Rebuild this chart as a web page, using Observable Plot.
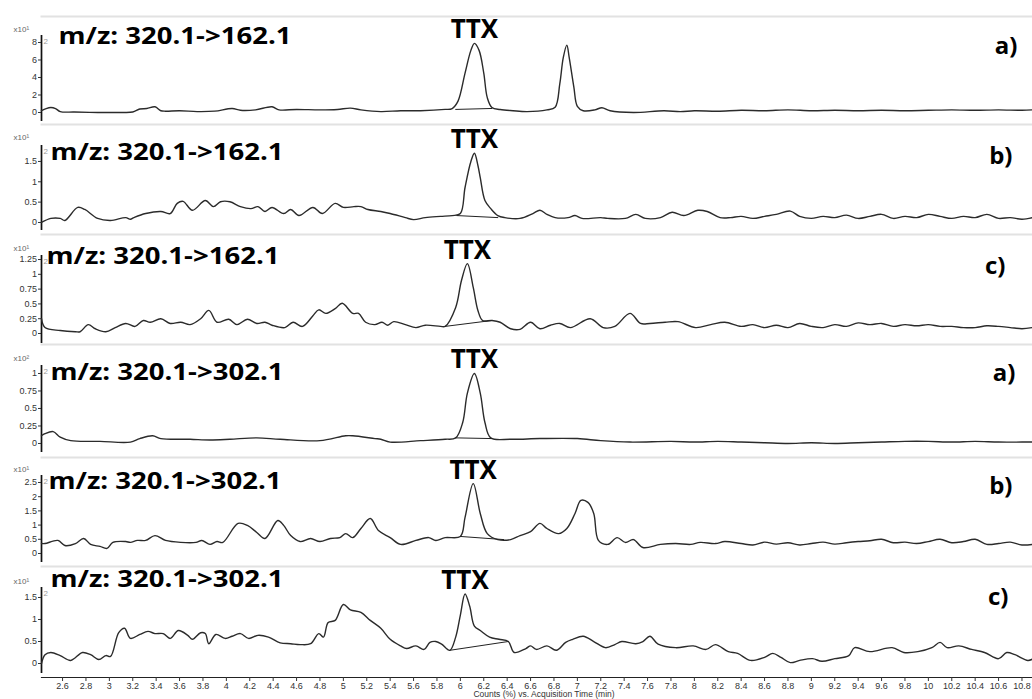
<!DOCTYPE html>
<html><head><meta charset="utf-8">
<script src="https://cdn.jsdelivr.net/npm/d3@7"></script>
<script src="https://cdn.jsdelivr.net/npm/@observablehq/plot@0.6"></script>
<style>
body{margin:0;background:#fff;}
#chart{width:1032px;height:699px;position:relative;overflow:hidden;padding-top:15px;box-sizing:border-box;background:#fff}
#chart svg{display:block;overflow:visible}
</style></head><body><div id="chart"></div>
<script>
// ---------------- data ----------------
const timeDomain = [2.42, 10.89];
const xTicks = [2.6,2.8,3,3.2,3.4,3.6,3.8,4,4.2,4.4,4.6,4.8,5,5.2,5.4,5.6,5.8,6,6.2,6.4,6.6,6.8,7,7.2,7.4,7.6,7.8,8,8.2,8.4,8.6,8.8,9,9.2,9.4,9.6,9.8,10,10.2,10.4,10.6,10.8];
const xTitle = "Counts (%) vs. Acquisition Time (min)";
const peakName = "TTX";
const transitions = ["m/z: 320.1->162.1","m/z: 320.1->162.1","m/z: 320.1->162.1","m/z: 320.1->302.1","m/z: 320.1->302.1","m/z: 320.1->302.1"];
const samples = ["a)","b)","c)","a)","b)","c)"];
const exponents = ["x10\u00b9","x10\u00b9","x10\u00b9","x10\u00b2","x10\u00b9","x10\u00b9"];
const yTicks1 = [0,2,4,6,8];
const yTicks2 = [0,0.5,1,1.5];
const yTicks3 = [0,0.25,0.5,0.75,1,1.25];
const yTicks4 = [0,0.25,0.5,0.75,1];
const yTicks5 = [0,0.5,1,1.5,2,2.5];
const yTicks6 = [0,0.5,1,1.5];

const trace1 = [[2.42,0.2],[2.46,0.45],[2.5,0.57],[2.54,0.45],[2.58,0.1],[2.7,0.05],[2.9,0],[3.1,0],[3.2,0.05],[3.26,0.4],[3.32,0.45],[3.39,0.65],[3.44,0.2],[3.48,0.15],[3.6,0.2],[3.75,0.1],[3.9,0.15],[4.05,0.45],[4.12,0.25],[4.25,0.3],[4.39,0.65],[4.45,0.3],[4.6,0.35],[4.8,0.3],[4.95,0.35],[5.06,0.5],[5.15,0.3],[5.32,0.1],[5.49,0.2],[5.66,0.2],[5.87,0.35],[5.93,0.45],[5.98,1.3],[6.04,4.5],[6.09,7.1],[6.12,7.9],[6.16,7.1],[6.2,4.5],[6.23,1.7],[6.27,0.57],[6.34,0.34],[6.45,0.2],[6.57,0.1],[6.74,0.3],[6.81,0.6],[6.85,3.3],[6.88,6.3],[6.91,7.7],[6.93,6.3],[6.97,2.9],[7,0.7],[7.05,0.2],[7.15,0.3],[7.21,0.55],[7.28,0.2],[7.48,0],[7.74,0.2],[7.88,0.1],[8,0.2],[8.2,0.15],[8.4,0.25],[8.6,0.2],[8.8,0.3],[9,0.2],[9.2,0.25],[9.4,0.2],[9.6,0.25],[9.8,0.2],[10,0.25],[10.2,0.3],[10.4,0.25],[10.6,0.3],[10.8,0.25],[10.89,0.3]];
const trace2 = [[2.42,0],[2.5,0.1],[2.58,0.1],[2.62,0.05],[2.73,0.37],[2.79,0.32],[2.9,0.1],[3.01,0.05],[3.14,0.12],[3.18,0.08],[3.21,0.12],[3.31,0.22],[3.44,0.27],[3.52,0.22],[3.58,0.47],[3.63,0.52],[3.71,0.3],[3.82,0.54],[3.89,0.39],[3.95,0.51],[4.03,0.51],[4.12,0.39],[4.21,0.34],[4.27,0.39],[4.33,0.27],[4.39,0.37],[4.49,0.22],[4.55,0.32],[4.62,0.17],[4.74,0.37],[4.82,0.22],[4.93,0.47],[5,0.37],[5.09,0.39],[5.15,0.39],[5.21,0.32],[5.32,0.27],[5.4,0.22],[5.53,0.12],[5.6,0.07],[5.7,0.12],[5.83,0.15],[5.93,0.17],[6,0.22],[6.04,0.86],[6.09,1.5],[6.12,1.7],[6.15,1.4],[6.17,1.1],[6.21,0.54],[6.26,0.34],[6.32,0.17],[6.38,0.12],[6.51,0.1],[6.62,0.22],[6.68,0.3],[6.74,0.2],[6.81,0.12],[6.92,0.12],[6.98,0.17],[7.04,0.1],[7.2,0.12],[7.26,0.1],[7.41,0.1],[7.5,0.2],[7.58,0.1],[7.71,0.12],[7.81,0.25],[7.91,0.17],[8.03,0.3],[8.11,0.27],[8.22,0.12],[8.31,0.12],[8.4,0.15],[8.5,0.1],[8.6,0.15],[8.7,0.2],[8.82,0.28],[8.9,0.15],[9,0.1],[9.1,0.15],[9.2,0.12],[9.3,0.18],[9.4,0.1],[9.5,0.15],[9.6,0.2],[9.7,0.1],[9.8,0.15],[9.9,0.12],[10,0.2],[10.1,0.15],[10.2,0.1],[10.3,0.15],[10.4,0.12],[10.5,0.2],[10.6,0.1],[10.7,0.12],[10.8,0.08],[10.89,0.12]];
const trace3 = [[2.42,0.25],[2.45,0.1],[2.58,0.05],[2.71,0.03],[2.75,0.03],[2.82,0.15],[2.88,0.08],[2.97,0.03],[3.05,0.1],[3.14,0.17],[3.22,0.12],[3.29,0.22],[3.35,0.19],[3.44,0.25],[3.52,0.17],[3.61,0.19],[3.69,0.15],[3.78,0.25],[3.85,0.39],[3.92,0.19],[4.02,0.24],[4.09,0.15],[4.18,0.24],[4.26,0.17],[4.33,0.19],[4.39,0.14],[4.5,0.1],[4.57,0.19],[4.65,0.12],[4.74,0.3],[4.79,0.4],[4.85,0.34],[4.93,0.42],[4.99,0.51],[5.08,0.34],[5.13,0.34],[5.19,0.19],[5.27,0.15],[5.33,0.19],[5.38,0.14],[5.43,0.2],[5.53,0.15],[5.62,0.1],[5.7,0.14],[5.83,0.12],[5.87,0.12],[5.96,0.44],[6.01,0.9],[6.06,1.18],[6.11,0.78],[6.15,0.39],[6.19,0.22],[6.27,0.22],[6.34,0.19],[6.43,0.08],[6.51,0.07],[6.6,0.19],[6.68,0.08],[6.77,0.14],[6.85,0.17],[6.94,0.1],[7.11,0.25],[7.22,0.1],[7.32,0.12],[7.45,0.34],[7.54,0.17],[7.62,0.17],[7.75,0.19],[7.86,0.2],[8.01,0.1],[8.14,0.15],[8.26,0.19],[8.4,0.12],[8.5,0.15],[8.6,0.1],[8.7,0.14],[8.8,0.1],[8.9,0.17],[9,0.12],[9.1,0.1],[9.2,0.15],[9.3,0.12],[9.4,0.18],[9.5,0.15],[9.6,0.17],[9.7,0.12],[9.8,0.15],[9.9,0.13],[10,0.15],[10.1,0.12],[10.2,0.12],[10.3,0.1],[10.4,0.1],[10.5,0.13],[10.6,0.12],[10.7,0.1],[10.8,0.08],[10.89,0.1]];
const trace4 = [[2.42,0.11],[2.45,0.14],[2.52,0.17],[2.58,0.09],[2.67,0.04],[2.92,0.03],[3.18,0.02],[3.26,0.07],[3.37,0.11],[3.44,0.07],[3.69,0.06],[3.86,0.05],[4.03,0.06],[4.26,0.08],[4.46,0.06],[4.8,0.04],[5.02,0.11],[5.08,0.11],[5.27,0.07],[5.32,0.06],[5.4,0.02],[5.66,0.04],[5.87,0.06],[5.96,0.08],[6.02,0.3],[6.06,0.72],[6.12,1],[6.17,0.72],[6.21,0.3],[6.26,0.08],[6.43,0.06],[6.68,0.07],[7,0.07],[7.2,0.04],[7.45,0.02],[7.8,0.03],[8,0.02],[8.2,0.03],[8.4,0.02],[8.6,0.01],[8.8,0],[9,0.01],[9.2,0],[9.4,0.01],[9.6,0.02],[9.8,0.03],[10,0.03],[10.2,0.02],[10.4,0.03],[10.6,0.02],[10.8,0.02],[10.89,0.02]];
const trace5 = [[2.42,0.35],[2.45,0.35],[2.56,0.46],[2.62,0.28],[2.71,0.35],[2.78,0.53],[2.84,0.32],[2.92,0.25],[2.98,0.18],[3.03,0.39],[3.14,0.42],[3.18,0.39],[3.24,0.46],[3.31,0.46],[3.39,0.63],[3.48,0.46],[3.61,0.39],[3.74,0.39],[3.79,0.46],[3.86,0.32],[3.92,0.42],[3.97,0.39],[4.1,1.06],[4.18,0.99],[4.26,0.74],[4.33,0.53],[4.44,1.16],[4.49,0.99],[4.55,0.63],[4.63,0.42],[4.72,0.53],[4.8,0.42],[4.89,0.53],[4.97,0.56],[5.02,0.7],[5.08,0.56],[5.15,0.88],[5.23,1.23],[5.3,0.81],[5.4,0.56],[5.49,0.32],[5.62,0.46],[5.73,0.56],[5.79,0.46],[5.87,0.56],[6,0.6],[6.04,1.27],[6.11,2.46],[6.17,1.41],[6.23,0.7],[6.32,0.49],[6.43,0.49],[6.51,0.63],[6.6,0.77],[6.68,1.06],[6.74,0.88],[6.84,0.7],[6.91,0.88],[6.98,1.41],[7.03,1.87],[7.09,1.8],[7.14,1.41],[7.18,0.46],[7.26,0.32],[7.34,0.56],[7.41,0.39],[7.48,0.49],[7.56,0.21],[7.71,0.32],[7.84,0.35],[7.97,0.32],[8.05,0.39],[8.18,0.35],[8.26,0.42],[8.4,0.35],[8.5,0.3],[8.6,0.4],[8.7,0.33],[8.8,0.38],[8.9,0.3],[9,0.35],[9.1,0.4],[9.2,0.33],[9.3,0.38],[9.4,0.42],[9.5,0.45],[9.6,0.5],[9.7,0.38],[9.8,0.4],[9.9,0.35],[10,0.42],[10.1,0.5],[10.2,0.38],[10.3,0.42],[10.4,0.5],[10.5,0.32],[10.6,0.35],[10.7,0.4],[10.8,0.3],[10.89,0.32]];
const trace6 = [[2.42,0],[2.45,0.2],[2.5,0.25],[2.58,0.18],[2.67,0.07],[2.77,0.25],[2.84,0.2],[2.91,0.09],[2.97,0.18],[3.01,0.16],[3.08,0.7],[3.13,0.8],[3.18,0.57],[3.26,0.66],[3.33,0.73],[3.39,0.68],[3.46,0.68],[3.52,0.57],[3.59,0.75],[3.67,0.64],[3.71,0.55],[3.78,0.7],[3.82,0.68],[3.85,0.45],[3.91,0.66],[3.99,0.57],[4.05,0.62],[4.12,0.68],[4.19,0.57],[4.27,0.64],[4.36,0.6],[4.46,0.47],[4.55,0.45],[4.63,0.43],[4.72,0.45],[4.79,0.68],[4.83,0.6],[4.87,0.93],[4.93,0.98],[5,1.34],[5.06,1.22],[5.15,1.16],[5.23,0.98],[5.32,0.8],[5.4,0.55],[5.49,0.4],[5.54,0.34],[5.62,0.4],[5.69,0.32],[5.74,0.48],[5.79,0.5],[5.84,0.44],[5.91,0.3],[5.96,0.6],[6,1.1],[6.04,1.58],[6.08,1.3],[6.12,0.85],[6.17,0.75],[6.25,0.6],[6.33,0.55],[6.41,0.5],[6.46,0.25],[6.56,0.34],[6.6,0.4],[6.65,0.32],[6.74,0.4],[6.82,0.3],[6.9,0.48],[6.96,0.55],[7.05,0.62],[7.14,0.5],[7.24,0.36],[7.32,0.43],[7.38,0.5],[7.5,0.45],[7.56,0.5],[7.62,0.62],[7.69,0.44],[7.84,0.36],[7.99,0.4],[8.1,0.32],[8.18,0.43],[8.29,0.27],[8.37,0.23],[8.48,0.07],[8.6,0.14],[8.67,0.23],[8.74,0.14],[8.82,0.02],[8.9,0.07],[9.01,0.11],[9.09,0.05],[9.2,0.11],[9.32,0.18],[9.37,0.36],[9.5,0.27],[9.69,0.36],[9.79,0.25],[9.91,0.27],[10.03,0.36],[10.1,0.48],[10.16,0.36],[10.26,0.4],[10.37,0.32],[10.48,0.25],[10.6,0.11],[10.67,0.25],[10.74,0.2],[10.85,0.07],[10.89,0.1]];

// integration baselines under the TTX peak: [start, end]
const base1 = [[5.96,0.35],[6.27,0.46]];
const base2 = [[5.97,0.17],[6.32,0.12]];
const base3 = [[5.87,0.12],[6.27,0.22]];
const base4 = [[5.96,0.08],[6.27,0.07]];
const base5 = [[6.0,0.6],[6.37,0.49]];
const base6 = [[5.91,0.3],[6.41,0.5]];

// ---------------- layout (pixels) ----------------
const layout = [
  {h:108, yDomain:[-1.03,8.8],   yRange:[106,20], tx:17, ty:27, lx:-15, ly:37, ey:15},
  {h:110, yDomain:[-0.197,1.892],yRange:[107,22], tx:9,  ty:35, lx:-20, ly:39, ey:15},
  {h:110, yDomain:[-0.169,1.318],yRange:[110,22], tx:5,  ty:29, lx:-27, ly:39, ey:16},
  {h:113, yDomain:[-0.129,1.114],yRange:[109,22], tx:9,  ty:35, lx:-17, ly:36, ey:16},
  {h:109, yDomain:[-0.317,2.746],yRange:[106,19], tx:7,  ty:31, lx:-20, ly:36, ey:14},
  {h:134, yDomain:[-0.227,1.727],yRange:[108,22], tx:9,  ty:20, lx:-24, ly:38, ey:17}
];
const labelWidth = 233;
const panels = [
  {trace:trace1, base:base1, ticks:yTicks1},
  {trace:trace2, base:base2, ticks:yTicks2},
  {trace:trace3, base:base3, ticks:yTicks3},
  {trace:trace4, base:base4, ticks:yTicks4},
  {trace:trace5, base:base5, ticks:yTicks5},
  {trace:trace6, base:base6, ticks:yTicks6}
];

const smallFont = "'Liberation Sans Narrow','Arial Narrow','Liberation Sans',Arial,sans-serif";
const bigFont = "'Open Sans',Lato,sans-serif";
const root = document.getElementById("chart");

panels.forEach((p, i) => {
  const L = layout[i];
  const last = i === panels.length - 1;
  const peak = d3.greatest(p.trace, d => d[1]);
  const marks = [
    Plot.frame({anchor: "top", stroke: "#e2e2e2", strokeWidth: 2}),
    Plot.ruleX([timeDomain[0]], {y1: L.yDomain[0], y2: L.yDomain[1], stroke: "#111", strokeWidth: 1.7}),
    Plot.axisY(p.ticks, {anchor: "left", tickSize: 3, tickPadding: 1.5, tickFormat: d => String(d), fontSize: 9, fontFamily: smallFont}),
    Plot.line(p.trace, {x: d => d[0], y: d => d[1], curve: "catmull-rom", stroke: "#2b2b2b", strokeWidth: 1.4}),
    Plot.line(p.base, {x: d => d[0], y: d => d[1], stroke: "#222", strokeWidth: 1}),
    Plot.text([peak], {x: d => d[0], y: d => d[1], text: () => peakName, dy: -5, lineAnchor: "bottom", fontFamily: bigFont, fontWeight: "bold", fontSize: 26, fill: "#000"}),
    Plot.text([transitions[i]], {text: d => d, frameAnchor: "top-left", dx: L.tx, dy: L.ty, textAnchor: "start", lineAnchor: "bottom", fontFamily: bigFont, fontWeight: "bold", fontSize: 24, fill: "#000"}),
    Plot.text([samples[i]], {text: d => d, frameAnchor: "top-right", dx: L.lx, dy: L.ly, textAnchor: "end", lineAnchor: "bottom", fontFamily: bigFont, fontWeight: "bold", fontSize: 24, fill: "#000"}),
    Plot.text([exponents[i]], {text: d => d, frameAnchor: "top-left", dx: -28, dy: L.ey, textAnchor: "start", lineAnchor: "bottom", fontFamily: smallFont, fontSize: 8, fill: "#666"}),
    Plot.text(["2"], {text: d => d, frameAnchor: "top-left", dx: 2, dy: L.yRange[1] + 7, textAnchor: "start", lineAnchor: "bottom", fontFamily: smallFont, fontSize: 8, fill: "#999"})
  ];
  if (last) {
    marks.push(
      Plot.frame({anchor: "bottom", stroke: "#222", strokeWidth: 1.2}),
      Plot.axisX(xTicks, {anchor: "bottom", tickSize: 4, tickPadding: 1, tickFormat: d => String(d), fontSize: 9, fontFamily: smallFont, label: null}),
      Plot.text([xTitle], {text: d => d, frameAnchor: "bottom", dx: 7, dy: 17, lineAnchor: "middle", fontFamily: smallFont, fontSize: 8.5, fill: "#333"})
    );
  }
  const svg = Plot.plot({
    width: 1032,
    height: L.h,
    marginLeft: 41, marginRight: 0, marginTop: 1, marginBottom: last ? 22 : 0,
    style: {background: "transparent", color: "#333", fontFamily: smallFont, overflow: "visible"},
    x: {domain: timeDomain, range: [41, 1032], axis: null},
    y: {domain: L.yDomain, range: L.yRange, axis: null},
    marks
  });
  d3.select(svg).selectAll("text")
    .filter(function() { return this.textContent === transitions[i]; })
    .attr("textLength", labelWidth).attr("lengthAdjust", "spacingAndGlyphs");
  root.appendChild(svg);
});
</script></body></html>
